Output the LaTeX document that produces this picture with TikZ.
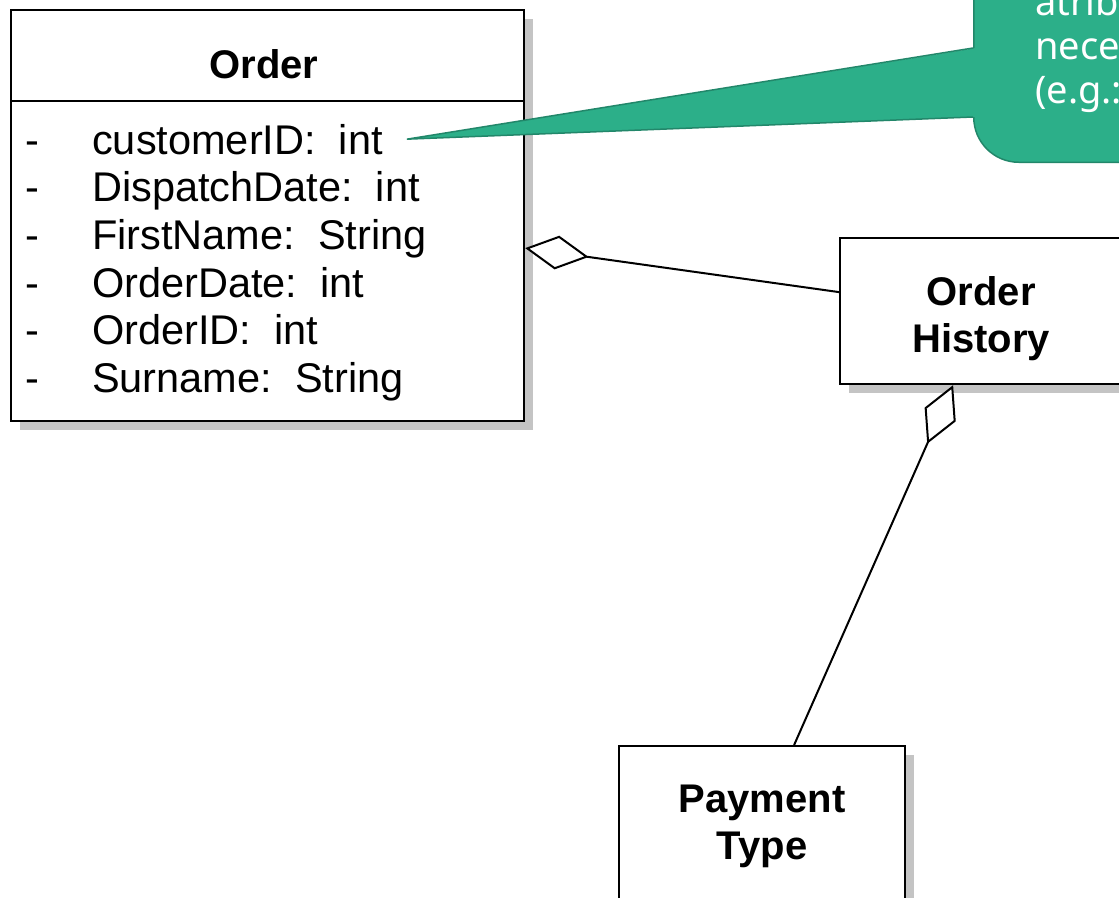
\documentclass[tikz,border=0pt]{standalone}
\usepackage{fontspec}
\setmainfont{Liberation Sans}
\newfontfamily\notefont{Noto Sans}
\usetikzlibrary{positioning,arrows.meta,shadows}
\definecolor{notegreen}{HTML}{2CAF89}
\definecolor{notedark}{HTML}{22876A}
\definecolor{shadowgray}{HTML}{C4C4C4}
\tikzstyle{class_box}=[rectangle, draw=black, line width=2.2pt, fill=white, anchor=north west, inner sep=0pt, drop shadow={shadow xshift=9pt, shadow yshift=-9pt, fill=shadowgray, opacity=1}]
\tikzstyle{class_title}=[font=\fontsize{40}{47}\selectfont\bfseries, align=center]
\tikzstyle{class_attr}=[font=\fontsize{41.5}{47}\selectfont, anchor=base west, inner sep=0pt]
\tikzstyle{aggregation}=[line width=2pt, {Diamond[open, fill=white, length=64pt, width=34pt]}-]
\tikzstyle{note_box}=[rectangle, rounded corners=45pt, fill=notegreen, draw=notedark, line width=1.5pt, anchor=south west]
\tikzstyle{note_text}=[font=\notefont\fontsize{38}{44}\selectfont, text=white, align=left, inner sep=0pt, anchor=north west]

\begin{document}
\begin{tikzpicture}[x=1pt,y=-1pt]

            \useasboundingbox (0,0) rectangle (1119,897);

            % Order class
            \node[class_box,minimum width=513pt,minimum height=91pt] (order_head) at (10,9) {};
            \node[class_box,minimum width=513pt,minimum height=320pt] (order_body) at (10,100) {};
            \node[class_title,anchor=base,inner sep=0pt] (order_name) at (264,78) {Order};
                % attributes
                \node[class_attr] (attr_customer) at (25,154) {\makebox[67pt][l]{-}customerID:~~int};
                \node[class_attr] (attr_dispatch) at (25,201) {\makebox[67pt][l]{-}DispatchDate:~~int};
                \node[class_attr] (attr_first) at (25,249) {\makebox[67pt][l]{-}FirstName:~~String};
                \node[class_attr] (attr_orderdate) at (25,297) {\makebox[67pt][l]{-}OrderDate:~~int};
                \node[class_attr] (attr_orderid) at (25,344) {\makebox[67pt][l]{-}OrderID:~~int};
                \node[class_attr] (attr_surname) at (25,392) {\makebox[67pt][l]{-}Surname:~~String};

            % Order History
            \node[class_box,class_title,minimum width=282pt,minimum height=146pt] (history) at (839,237) {\rule{0pt}{44pt}Order\\History};

            % Payment Type
            \node[class_box,class_title,minimum width=286pt,minimum height=160pt] (payment) at (618,745) {Payment\\Type};

            % aggregations
            \draw[aggregation] ([yshift=13pt]order_body.east) -- ([yshift=19pt]history.west);
            \draw[aggregation] ([xshift=-28pt]history.south) -- ([xshift=32pt]payment.north);

            % Note
            \node[note_box,minimum width=400pt,minimum height=420pt] (note) at (973,163) {};
            \coordinate (note_tip) at ([xshift=24pt]attr_customer.east);
            \fill[notegreen] ([xshift=3pt,yshift=115pt]note.south west) -- (note_tip) -- ([xshift=3pt,yshift=46pt]note.south west) -- cycle;
            \draw[notedark,line width=1.5pt] ([yshift=115pt]note.south west) -- (note_tip) -- ([yshift=46pt]note.south west);
            \node[note_text] (note_lines) at (1035,-14) {atribu\\nece\\(e.g.:};

\end{tikzpicture}
\end{document}
